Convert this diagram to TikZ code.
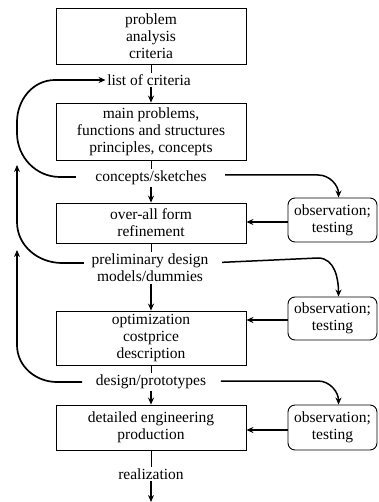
\documentclass[tikz,border=0pt]{standalone}
\usepackage{fontspec}
\setmainfont{Liberation Serif}
\usetikzlibrary{calc,arrows.meta}
\begin{document}
\begin{tikzpicture}[x=1pt,y=-1pt,
  every node/.style={font=\fontsize{15.5}{17}\selectfont},
  mainbox/.style={draw,line width=0.8pt,minimum width=190pt,inner sep=0pt,align=center},
  obsbox/.style={draw,line width=0.9pt,rounded corners=7pt,minimum width=89pt,inner sep=0pt,align=center},
  lbl/.style={inner sep=1.5pt,align=center},
  tick/.style={line width=0.9pt},
  conn/.style={line width=1.5pt,-{Stealth[length=7pt,width=6pt]}},
  fb/.style={line width=1.7pt,-{Stealth[length=7pt,width=6pt]}}]
\useasboundingbox (0,0) rectangle (379,502);

% main column
\node[mainbox,minimum height=56pt] (b1) at (151,36) {problem\\analysis\\criteria};
\node[lbl] (loc) at (149,80) {list of criteria};
\node[mainbox,minimum height=57pt] (b2) at (151,131.5) {main problems,\\functions and structures\\principles, concepts};
\node[lbl] (cs) at (151,178) {concepts/sketches};
\node[mainbox,minimum height=40pt] (b3) at (151,223) {over-all form\\refinement};
\node[lbl] (pd) at (150,268) {preliminary design\\models/dummies};
\node[mainbox,minimum height=54pt] (b4) at (151,338) {optimization\\costprice\\description};
\node[lbl] (dp) at (151,382) {design/prototypes};
\node[mainbox,minimum height=45pt] (b5) at (151,427.5) {detailed engineering\\production};
\node[lbl] (rl) at (151,474) {realization};
\coordinate (end) at (151,502);

% observation boxes
\node[obsbox,minimum height=44pt] (o1) at (332.5,220) {observation;\\testing};
\node[obsbox,minimum height=43pt] (o2) at (332.5,318.5) {observation;\\testing};
\node[obsbox,minimum height=45pt] (o3) at (332.5,427.5) {observation;\\testing};

% vertical flow
\draw[tick] (b1.south) -- (b1.south |- loc.north);
\draw[conn] (b2.north |- loc.south) -- (b2.north);
\draw[tick] (b2.south) -- (b2.south |- cs.north);
\draw[conn] (b3.north |- cs.south) -- (b3.north);
\draw[tick] (b3.south) -- (b3.south |- pd.north);
\draw[conn] (b4.north |- pd.south) -- (b4.north);
\draw[tick] (b4.south) -- (b4.south |- dp.north);
\draw[conn] (b5.north |- dp.south) -- (b5.north);
\draw[tick] (b5.south) -- (b5.south |- rl.north);
\draw[conn] (rl.south) -- (end);

% to observation boxes
\draw[conn] ($(cs.east)+(17,-3)$) -- (318,175) to[out=0,in=90] ([xshift=6pt]o1.north);
\draw[conn] ($(pd.north east)+(12,10)$) -- (318,258) to[out=0,in=90] ([xshift=6pt]o2.north);
\draw[conn] ($(dp.east)+(13,-1)$) -- (318,381) to[out=0,in=90] ([xshift=6pt]o3.north);

% back from observation boxes
\draw[conn] ([yshift=-2pt]o1.west) -- ([yshift=-2pt]o1.west -| b3.east);
\draw[conn] ([yshift=-1.5pt]o2.west) -- ([yshift=-1.5pt]o2.west -| b4.east);
\draw[conn] ([yshift=-2.5pt]o3.west) -- ([yshift=-2.5pt]o3.west -| b5.east);

% feedback loops
\draw[fb] ($(cs.west)+(-18,-1)$) -- (60,177) to[out=180,in=-90] (17,133) -- (17,122) to[out=90,in=180] (55,80) -- (loc.west);
\draw[fb] ($(pd.west)+(-6,-5)$) -- (62,263) to[out=180,in=-90] (17,222) -- (17,165);
\draw[fb] ($(dp.west)+(-12,0)$) -- (57,382) to[out=180,in=-90] (17,345) -- (17,250);
\end{tikzpicture}
\end{document}
